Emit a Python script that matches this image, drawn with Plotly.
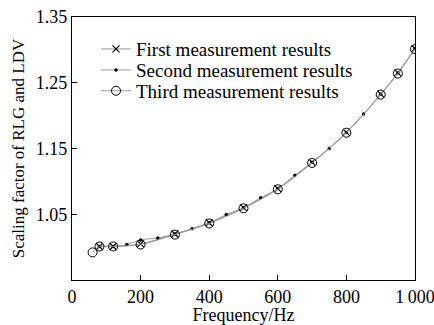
import plotly.graph_objects as go

freq_first = [80, 120, 200, 300, 400, 500, 600, 700, 800, 900, 950, 1000]
scale_first = [1.001, 1.001, 1.005, 1.020, 1.037, 1.060, 1.089, 1.129, 1.1745, 1.2326, 1.265, 1.302]

freq_second = [80, 120, 160, 200, 250, 300, 350, 400, 450, 500, 550, 600, 650, 700, 750, 800, 850, 900, 950, 1000]
scale_second = [1.001, 1.001, 1.004, 1.011, 1.014, 1.020, 1.028, 1.037, 1.0495, 1.060, 1.075, 1.089, 1.1095, 1.129, 1.150, 1.1745, 1.2023, 1.2326, 1.265, 1.302]

freq_third = [60, 80, 120, 200, 300, 400, 500, 600, 700, 800, 900, 950, 1000]
scale_third = [0.992, 1.001, 1.001, 1.004, 1.019, 1.036, 1.059, 1.088, 1.128, 1.174, 1.232, 1.264, 1.301]

x_ticks = [0, 200, 400, 600, 800, 1000]
x_ticktext = ["0", "200", "400", "600", "800", "1\u2009000"]
y_ticks = [1.05, 1.15, 1.25, 1.35]
y_ticktext = ["1.05", "1.15", "1.25", "1.35"]

FONT = "Liberation Serif"
LINE = "#9a9a9a"

fig = go.Figure()
fig.add_trace(go.Scatter(
    x=freq_first, y=scale_first, mode="lines+markers", name="First measurement results",
    line=dict(color=LINE, width=1, shape="spline"), legend="legend",
    marker=dict(symbol="x-thin-open", size=7, color="black", line=dict(color="black", width=1.2)),
))
fig.add_trace(go.Scatter(
    x=freq_second, y=scale_second, mode="lines+markers", name="Second measurement results",
    line=dict(color=LINE, width=1, shape="spline"), legend="legend2",
    marker=dict(symbol="circle", size=3.5, color="black"),
))
fig.add_trace(go.Scatter(
    x=freq_third, y=scale_third, mode="lines+markers", name="Third measurement results",
    line=dict(color=LINE, width=1, shape="spline"), legend="legend3",
    marker=dict(symbol="circle-open", size=9, color="black", line=dict(color="black", width=1)),
))

legend_common = dict(x=0.07, xanchor="left", yanchor="middle", bgcolor="rgba(0,0,0,0)",
                     font=dict(family=FONT, size=19), itemwidth=30)

fig.update_layout(
    width=434, height=325,
    margin=dict(l=72, r=19, t=17, b=45, autoexpand=False),
    paper_bgcolor="white", plot_bgcolor="white",
    font=dict(family=FONT, size=18, color="black"),
    showlegend=True,
    legend=dict(y=0.878, **legend_common),
    legend2=dict(y=0.798, **legend_common),
    legend3=dict(y=0.719, **legend_common),
    xaxis=dict(range=[0, 1000], tickvals=x_ticks, ticktext=x_ticktext, automargin=False,
               ticklabeloverflow="allow",
               showline=True, linecolor="black", linewidth=1.2, mirror=True,
               ticks="inside", ticklen=5, tickcolor="black", showgrid=False, zeroline=False,
               title=dict(text="Frequency/Hz", standoff=18, font=dict(size=18)),
               tickfont=dict(family=FONT, size=18)),
    yaxis=dict(range=[0.95, 1.35], tickvals=y_ticks, ticktext=y_ticktext, automargin=False,
               ticklabeloverflow="allow",
               showline=True, linecolor="black", linewidth=1.2, mirror=True,
               ticks="inside", ticklen=5, tickcolor="black", showgrid=False, zeroline=False,
               title=dict(text="Scaling factor of RLG and LDV", standoff=6, font=dict(size=17)),
               tickfont=dict(family=FONT, size=18)),
)

post = "document.body.style.margin='0px';"
fig.write_html("out.html", post_script=post, config={"displayModeBar": False})
